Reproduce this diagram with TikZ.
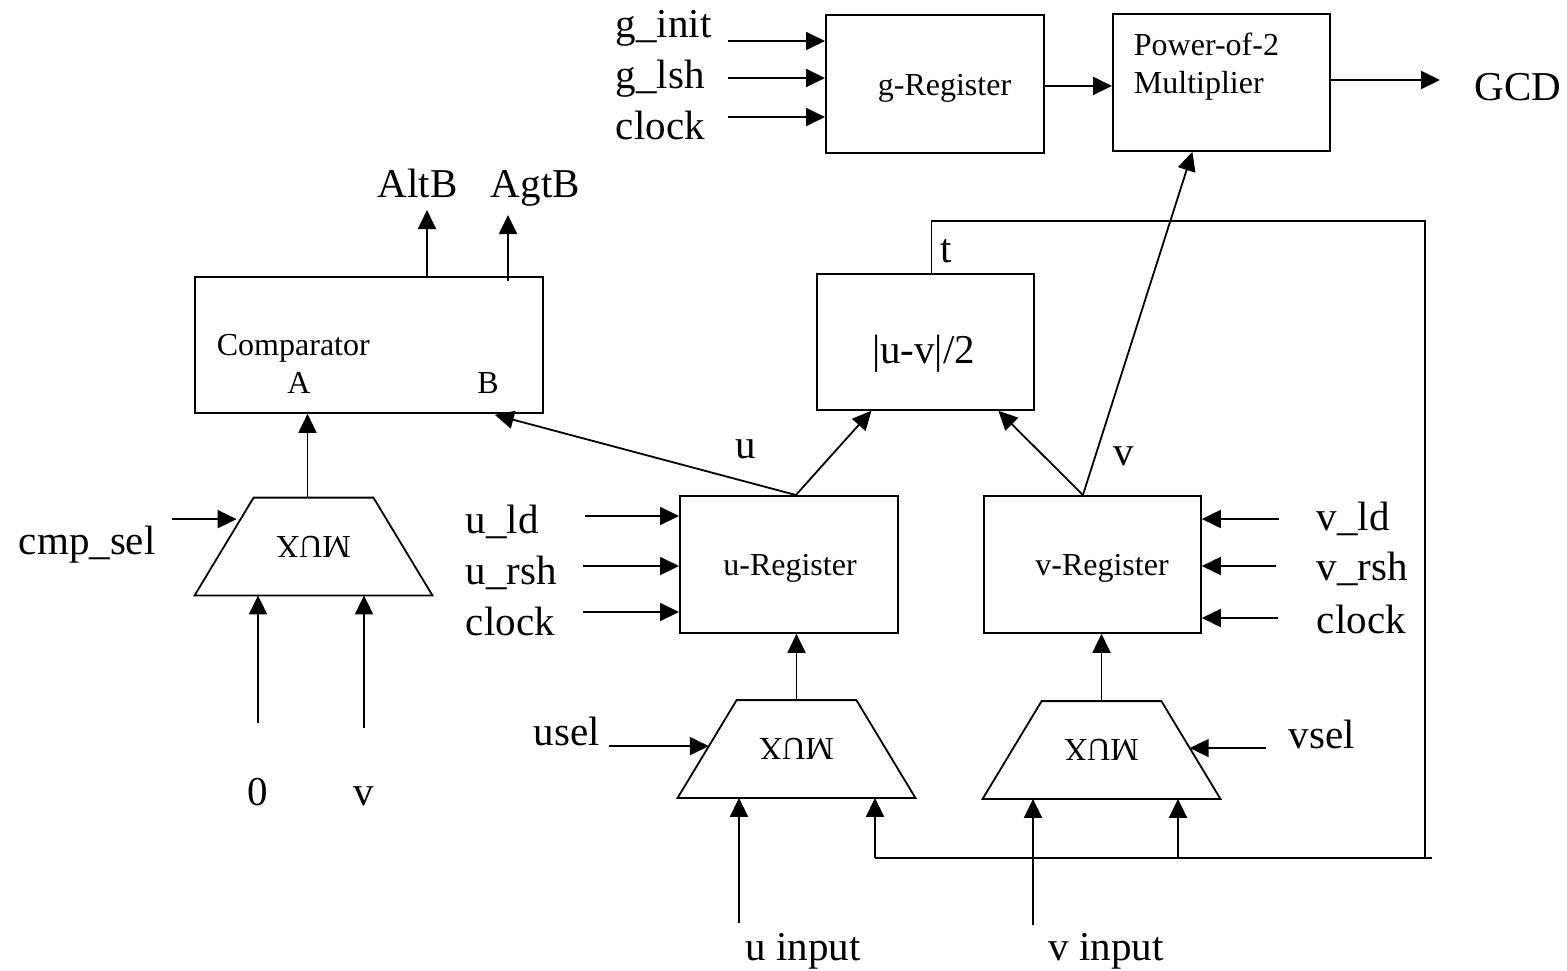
\documentclass[tikz,border=0pt]{standalone}
\usepackage{fontspec}
\setmainfont{Liberation Serif}
\usetikzlibrary{arrows.meta,calc}

\begin{document}
\begin{tikzpicture}[x=0.5pt,y=-0.5pt,line width=0.9pt,
  sig/.style={-{Triangle[length=9.5pt,width=9pt]}},
  blk/.style={draw,rectangle,inner sep=0pt,anchor=north west},
  muxbox/.style={rectangle,minimum width=118pt,minimum height=48pt,inner sep=0pt,
    font=\fontsize{16}{19}\selectfont},
  big/.style={inner sep=0pt,font=\fontsize{20.5}{24}\selectfont},
  small/.style={inner sep=0pt,font=\fontsize{16}{19}\selectfont}]

\path[use as bounding box] (0,0) rectangle (1567,970);

% ---------- blocks ----------
\node[blk,minimum width=109pt,minimum height=69pt]   (greg) at (825,14) {};
\node[blk,minimum width=108.5pt,minimum height=68.5pt] (mult) at (1112,13) {};
\node[blk,minimum width=174pt,minimum height=68pt]   (comp) at (194,276) {};
\node[blk,minimum width=108.5pt,minimum height=68pt] (half) at (816,273) {};
\node[blk,minimum width=109pt,minimum height=68.5pt] (ureg) at (679,495) {};
\node[blk,minimum width=108.5pt,minimum height=68.5pt] (vreg) at (983,495) {};

% multiplexers: bounding node plus trapezoid outline
\node[muxbox] (cmux) at (313.5,546.5) {\rotatebox{180}{MUX}};
\node[muxbox] (umux) at (796.5,749) {\rotatebox{180}{MUX}};
\node[muxbox] (vmux) at (1101.5,750) {\rotatebox{180}{MUX}};
\foreach \m in {cmux,umux,vmux}{
  \coordinate (\m-tl) at ($(\m.north west)+(59,0)$);
  \coordinate (\m-tr) at ($(\m.north east)+(-59,0)$);
  \draw (\m.south west) -- (\m-tl) -- (\m-tr) -- (\m.south east) -- cycle;
}

% ---------- texts inside blocks ----------
\node[small,anchor=base] (gregt) at (944.5,95) {g-Register};
\node[small,anchor=base west] (multa) at (1133,55) {Power-of-2};
\node[small,anchor=base west] (multb) at (1133,93) {Multiplier};
\node[small,anchor=base west] (compt) at (216,355) {Comparator};
\node[small,anchor=base] (compa) at (299,393) {A};
\node[small,anchor=base] (compb) at (488,393) {B};
\node[big,anchor=base] (halft) at (923.5,363) {|u-v|/2};
\node[small,anchor=base] (uregt) at (790,575) {u-Register};
\node[small,anchor=base] (vregt) at (1102,575) {v-Register};

% ---------- signal labels ----------
\node[big,anchor=base west] (lginit) at (615,37) {g\_init};
\node[big,anchor=base west] (lglsh)  at (615,88) {g\_lsh};
\node[big,anchor=base west] (lgclk)  at (615,139) {clock};
\node[big,anchor=base west] (lgcd)   at (1474,100) {GCD};
\node[big,anchor=base west] (laltb)  at (377,197) {AltB};
\node[big,anchor=base west] (lagtb)  at (490,197) {AgtB};
\node[big,anchor=base west] (lt)     at (940,262) {t};
\node[big,anchor=base] (lu) at (746,458) {u};
\node[big,anchor=base] (lv) at (1124,465) {v};
\node[big,anchor=base west] (luld)  at (465,533) {u\_ld};
\node[big,anchor=base west] (lursh) at (465,584) {u\_rsh};
\node[big,anchor=base west] (luclk) at (465,635) {clock};
\node[big,anchor=base west] (lvld)  at (1316,530) {v\_ld};
\node[big,anchor=base west] (lvrsh) at (1316,580) {v\_rsh};
\node[big,anchor=base west] (lvclk) at (1316,633) {clock};
\node[big,anchor=base west] (lcsel) at (18,554) {cmp\_sel};
\node[big,anchor=base] (lzero) at (258,805) {0};
\node[big,anchor=base] (lcv)   at (364,805) {v};
\node[big,anchor=base west] (lusel) at (533,745) {usel};
\node[big,anchor=base west] (lvsel) at (1288,748) {vsel};
\node[big,anchor=base] (luin) at (803,960) {u input};
\node[big,anchor=base] (lvin) at (1106,960) {v input};

% ---------- free ends of connectors ----------
\coordinate (ginit) at (728,41);
\coordinate (glsh)  at (728,78);
\coordinate (gclk)  at (728,117);
\coordinate (gcdout) at (1440,80);
\coordinate (altbout) at (427,210);
\coordinate (agtbout) at (508,215);
\coordinate (agtbsrc) at (508,281);
\coordinate (cselin) at (172,520);
\coordinate (czero) at (258,723);
\coordinate (cvin) at (364,728);
\coordinate (uldin) at (585,516);
\coordinate (urshin) at (583,566);
\coordinate (uclkin) at (583,612);
\coordinate (vldin) at (1279,519);
\coordinate (vrshin) at (1276,566);
\coordinate (vclkin) at (1278,618);
\coordinate (uselin) at (609,746);
\coordinate (vselin) at (1266,748);
\coordinate (uin) at (739,923);
\coordinate (vin) at (1033,925);
\coordinate (tcorner) at (1425,221);
\coordinate (busend) at (1432,858);
\coordinate (ubus) at (875,858);
\coordinate (vbus) at (1178,858);

% ---------- taps ----------
\coordinate (uout) at ([xshift=3.5pt]ureg.north);
\coordinate (vout) at ([xshift=-4.75pt]vreg.north);
\coordinate (tout) at ([xshift=3pt]half.north);
\coordinate (cselend) at ($(cmux-tl)!0.22!(cmux.south west)$);
\coordinate (uselend) at ($(umux-tl)!0.47!(umux.south west)$);
\coordinate (vselend) at ($(vmux-tr)!0.48!(vmux.south east)$);

% ---------- connectors ----------
\draw[sig] (ginit) -- (ginit -| greg.west);
\draw[sig] (glsh) -- (glsh -| greg.west);
\draw[sig] (gclk) -- (gclk -| greg.west);
\draw[sig] ([yshift=-1pt]greg.east) -- ([yshift=-1pt]greg.east -| mult.west);
\draw[sig] (mult.east |- gcdout) -- (gcdout);

\draw[sig] (altbout |- comp.north) -- (altbout);
\draw[sig] (agtbsrc) -- (agtbout);

\draw[sig] ([xshift=-3pt]cmux.north) -- ([xshift=-3pt]cmux.north |- comp.south);
\draw[sig] (cselin |- cselend) -- ([xshift=-2pt]cselend);
\draw[sig] (czero) -- (czero |- cmux.south);
\draw[sig] (cvin) -- (cvin |- cmux.south);

\draw[sig] (uout) -- ([xshift=-24.5pt,yshift=-0.5pt]comp.south east);
\draw[sig] (uout) -- ([xshift=-27pt]half.south);
\draw[sig] (vout) -- ([xshift=36.5pt]half.south);
\draw[sig] (vout) -- ([xshift=-14.5pt]mult.south);

\draw[sig] (uldin) -- (uldin -| ureg.west);
\draw[sig] (urshin) -- (urshin -| ureg.west);
\draw[sig] (uclkin) -- (uclkin -| ureg.west);
\draw[sig] (vldin) -- (vldin -| vreg.east);
\draw[sig] (vrshin) -- (vrshin -| vreg.east);
\draw[sig] (vclkin) -- (vclkin -| vreg.east);

\draw[sig] (umux.north) -- (umux.north |- ureg.south);
\draw[sig] (vmux.north) -- (vmux.north |- vreg.south);
\draw[sig] (uselin |- uselend) -- (uselend);
\draw[sig] (vselin |- vselend) -- (vselend);
\draw[sig] (uin) -- (uin |- umux.south);
\draw[sig] (vin) -- (vin |- vmux.south);

% feedback of t into both multiplexers
\draw (tout) |- (tcorner) -- (tcorner |- busend);
\draw (ubus) -- (busend);
\draw[sig] (ubus) -- (ubus |- umux.south);
\draw[sig] (vbus) -- (vbus |- vmux.south);
\end{tikzpicture}
\end{document}
